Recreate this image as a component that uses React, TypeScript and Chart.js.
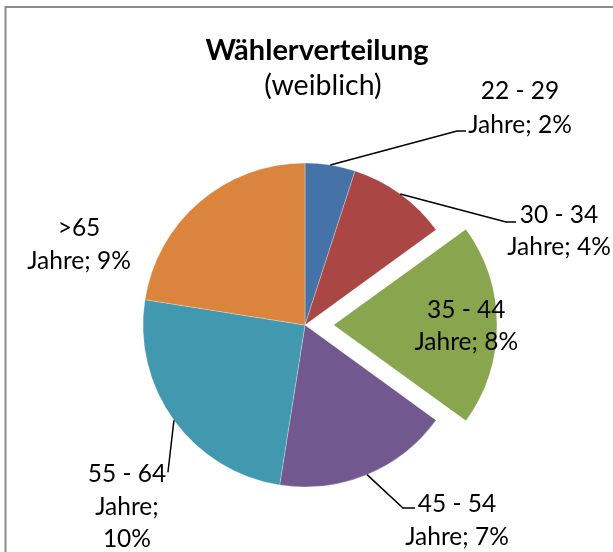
import React, { useEffect, useRef } from "react";
import { Chart, registerables } from "chart.js";

Chart.register(...registerables);

// ---- data ----
const categories = ["22 - 29", "30 - 34", "35 - 44", "45 - 54", "55 - 64", ">65"];
const values = [2, 4, 8, 7, 10, 9];
const unit = "Jahre;";
const titleText = "Wählerverteilung";
const subtitleText = "(weiblich)";

// ---- styles / layout ----
const colors = ["#4572A7", "#AA4643", "#89A54E", "#71588F", "#4198AF", "#DB843D"];
const explode = [0, 0, 30, 0, 0, 0]; // desired pixel shift of each slice
const FONT = "Lato, 'Open Sans', sans-serif";
const LABEL_SIZE = 24.5;

// Chart.js translates an arc by offset/4 * (1 + fix); convert desired pixel shift to option value
const total = values.reduce((a, b) => a + b, 0);
const offsetOption = explode.map((s, i) => {
  const circ = (values[i] / total) * Math.PI * 2;
  const fix = 1 - Math.sin(Math.min(Math.PI, circ));
  return (s * 4) / (1 + fix);
});

type LabelLayout = {
  dx?: number;
  dy?: number;
  inside?: number;
  gap: number;
  elbow?: [number, number] | null;
  end?: [number, number] | null;
  wrap?: boolean;
};
const labelLayout: LabelLayout[] = [
  { dx: 189.7, dy: -74.5, gap: 33.5, elbow: [126.7, -34], end: [135.7, -34] },
  { dx: 158.8, dy: 20.1, gap: 32, elbow: [105.8, 28.1], end: [115.8, 28.1] },
  { inside: 0.81, gap: 32.5 },
  { dx: 90, dy: 28.3, gap: 33, elbow: [36, 33.3], end: [48, 33.3] },
  { dx: -47, dy: 53, gap: 32.5, elbow: null, end: [-6, 52], wrap: true },
  { dx: -120.8, dy: 25.2, gap: 33 },
];

function labelLines(i: number): string[] {
  const v = values[i] + "%";
  return labelLayout[i].wrap ? [categories[i], unit, v] : [categories[i], unit + " " + v];
}

const decorPlugin = {
  id: "decor",
  afterDatasetsDraw(chart: any) {
    const ctx: CanvasRenderingContext2D = chart.ctx;
    const meta = chart.getDatasetMeta(0);
    ctx.save();

    // frame
    ctx.strokeStyle = "#8c8c8c";
    ctx.lineWidth = 2;
    ctx.strokeRect(5.5, 7, 700, 700);

    // title
    ctx.fillStyle = "#000";
    ctx.textAlign = "center";
    ctx.textBaseline = "alphabetic";
    ctx.font = `bold 29px ${FONT}`;
    ctx.fillText(titleText, 317, 60);
    ctx.font = `28.5px ${FONT}`;
    ctx.fillText(subtitleText, 323, 95);

    // labels
    ctx.font = `${LABEL_SIZE}px ${FONT}`;
    meta.data.forEach((arc: any, i: number) => {
      const p = arc.getProps(["x", "y", "startAngle", "endAngle", "outerRadius"], true);
      const mid = (p.startAngle + p.endAngle) / 2;
      const off = explode[i] || 0;
      const cx = p.x + Math.cos(mid) * off;
      const cy = p.y + Math.sin(mid) * off;
      const L = labelLayout[i];
      const lines = labelLines(i);
      let tx: number, ty: number;
      if (L.inside) {
        tx = cx + Math.cos(mid) * p.outerRadius * L.inside;
        const my = cy + Math.sin(mid) * p.outerRadius * L.inside;
        ty = my - ((lines.length - 1) * L.gap) / 2;
      } else {
        const ax = cx + Math.cos(mid) * p.outerRadius;
        const ay = cy + Math.sin(mid) * p.outerRadius;
        tx = ax + (L.dx || 0);
        ty = ay + (L.dy || 0);
        if (L.end) {
          ctx.beginPath();
          ctx.strokeStyle = "#000";
          ctx.lineWidth = 1.5;
          ctx.moveTo(ax, ay);
          if (L.elbow) ctx.lineTo(ax + L.elbow[0], ay + L.elbow[1]);
          ctx.lineTo(ax + L.end[0], ay + L.end[1]);
          ctx.stroke();
        }
      }
      ctx.fillStyle = "#000";
      lines.forEach((t, k) => {
        ctx.fillText(t, tx, ty + k * L.gap + LABEL_SIZE * 0.36);
      });
    });
    ctx.restore();
  },
};

export default function App() {
  const ref = useRef<HTMLCanvasElement | null>(null);
  useEffect(() => {
    if (!ref.current) return;
    const chart = new Chart(ref.current, {
      type: "pie",
      data: {
        labels: categories,
        datasets: [
          {
            data: values,
            backgroundColor: colors,
            borderColor: "rgba(255,255,255,0.35)",
            borderWidth: 0.8,
            offset: offsetOption,
          },
        ],
      },
      options: {
        responsive: false,
        animation: false,
        radius: 162,
        layout: { padding: { left: 0, right: 3, top: 98, bottom: 0 } },
        plugins: {
          legend: { display: false },
          title: { display: false },
          tooltip: { enabled: false },
        },
      } as any,
      plugins: [decorPlugin],
    });
    (document as any).fonts?.load?.(`27px Lato`).then(() => chart.draw()).catch(() => {});
    return () => chart.destroy();
  }, []);
  return (
    <div style={{ position: "fixed", left: 0, top: 0, width: 613, height: 552, background: "#fff" }}>
      <canvas ref={ref} width={613} height={552} style={{ display: "block" }} />
    </div>
  );
}
